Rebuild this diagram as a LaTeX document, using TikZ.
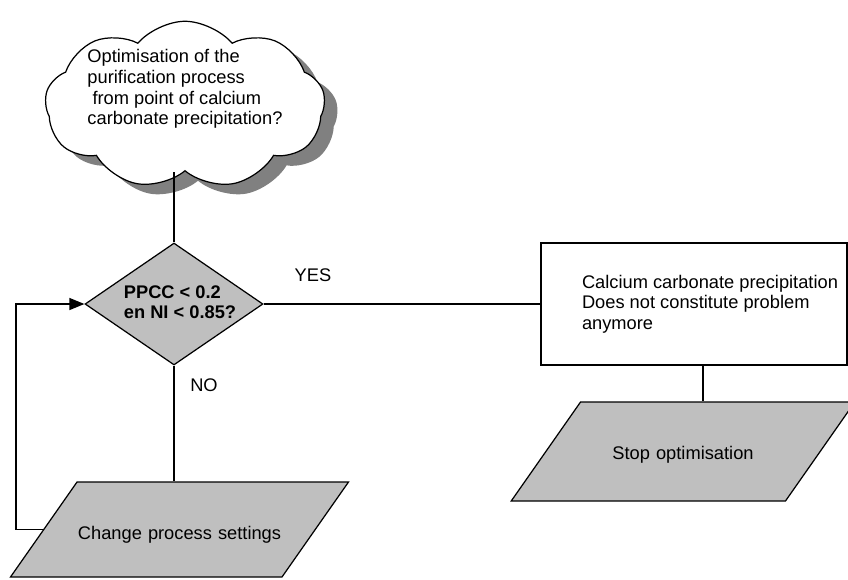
\documentclass[tikz,border=0pt]{standalone}
\usepackage{fontspec}
\setmainfont{Liberation Sans}
\usepackage{tikz}
\usetikzlibrary{shapes.geometric,shapes.symbols,shadows,arrows.meta}

\begin{document}
\begin{tikzpicture}
  [x=0.02cm, y=-0.02cm, line width=0.7pt,
   every node/.style={font=\fontsize{10.4}{11.7}\selectfont},
   thought/.style={cloud, cloud puffs=9, cloud puff arc=100, cloud ignores aspect,
     draw, fill=white, minimum width=5.6cm, minimum height=3.35cm, inner sep=0,
     drop shadow={shadow xshift=0.26cm, shadow yshift=-0.2cm, fill=black!50, opacity=1}},
   test/.style={diamond, draw, fill=black!25, minimum width=3.56cm,
     minimum height=2.44cm, inner sep=0},
   result/.style={rectangle, draw, fill=white, minimum width=6.12cm, minimum height=2.44cm},
   io/.style={trapezium, trapezium left angle=55, trapezium right angle=125,
     draw, fill=black!25, inner sep=0, text width=4.1cm, align=center, text height=1.15cm},
   plain/.style={inner sep=0, align=left}]

  \useasboundingbox (0,0) rectangle (848,579);

  % question cloud
  \node[thought] (q) at (185,105) {};
  \node[plain] (qtxt) at (185,89)
    {Optimisation of the\\purification process\\\ from point of calcium\\carbonate precipitation?};

  % decision
  \node[test] (dec) at (174,304) {};
  \node[plain, font=\fontsize{10.4}{11.7}\selectfont\bfseries] (dectxt) at (180,302)
    {PPCC < 0.2\\en NI < 0.85?};
  \draw (dec.north) -- (dec.north |- q.south);

  % yes branch
  \node[result] (res) at (694,304) {};
  \node[plain, anchor=west] (restxt) at ([xshift=0.82cm]res.west)
    {Calcium carbonate precipitation\\Does not constitute problem\\anymore};
  \draw (dec.east) -- (res.west);
  \node[plain] (yes) at (313,275) {YES};

  \node[io, text depth=0.83cm] (stop) at (683,451.5) {Stop optimisation};
  \draw ([xshift=0.18cm]res.south) -- ([xshift=0.18cm]res.south |- stop.north);

  % no branch
  \node[io, text depth=0.75cm] (chg) at (179.5,529.5) {Change process settings};
  \draw (dec.south) -- (dec.south |- chg.north);
  \node[plain] (no) at (204,385) {NO};

  % back to the test
  \coordinate (back) at (16,526);
  \draw[-{Triangle[length=0.3cm, width=0.24cm]}]
    (chg.left side) -- (chg.left side -| back) |- (dec.west);

\end{tikzpicture}
\end{document}
